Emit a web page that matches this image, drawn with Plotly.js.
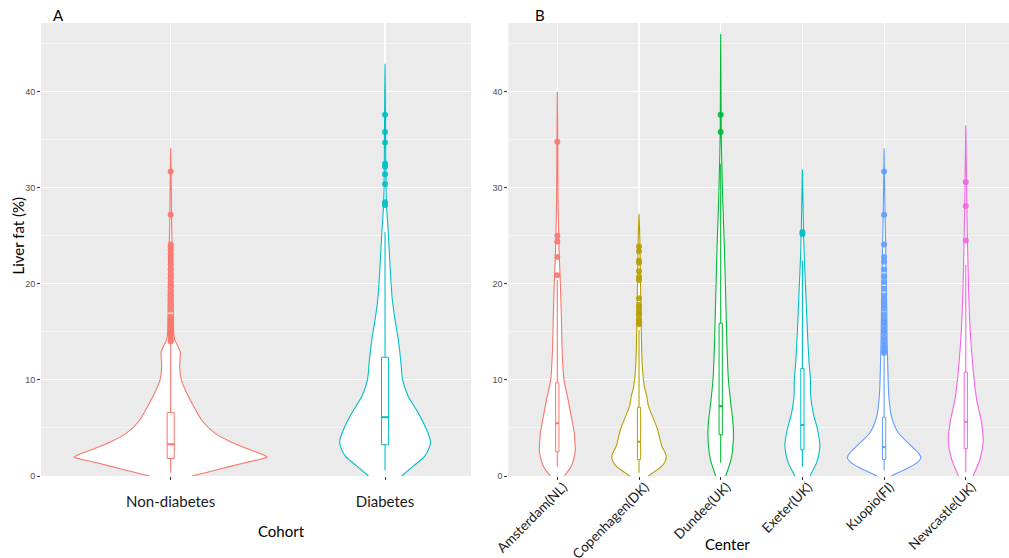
<!DOCTYPE html>
<html>
<head>
<meta charset="utf-8">
<script src="https://cdn.plot.ly/plotly-3.0.1.min.js"></script>
<style>
  html, body { margin: 0; padding: 0; background: #ffffff; }
  #chart { width: 1009px; height: 558px; }
</style>
</head>
<body>
<div id="chart"></div>
<script>
// ---------------- DATA ----------------
const cohorts = ["Non-diabetes", "Diabetes"];
const centers = ["Amsterdam(NL)", "Copenhagen(DK)", "Dundee(UK)", "Exeter(UK)", "Kuopio(FI)", "Newcastle(UK)"];

// Violin density profiles (liver fat value, relative density; widest violin of a panel = 1)
const nonDiabY = [0, 0.5, 1.0, 1.5, 1.75, 1.96, 2.2, 2.68, 3.52, 4.49, 5.7, 7.1, 8.66, 10.0, 11.4, 12.3, 12.8, 13.5, 14.2, 15, 18, 22, 24, 26, 30, 34.1];
const nonDiabD = [0.22, 0.42, 0.62, 0.82, 0.93, 1.0, 0.96, 0.835, 0.63, 0.455, 0.33, 0.247, 0.165, 0.11, 0.093, 0.098, 0.1, 0.075, 0.041, 0.031, 0.026, 0.021, 0.015, 0.01, 0.006, 0];
const diabY = [0, 1.02, 2.06, 3.0, 3.62, 4.84, 6.58, 8.3, 10.04, 12.1, 14.2, 16.3, 18.4, 21.8, 25.3, 27.7, 30, 35, 40, 42.9];
const diabD = [0.172, 0.292, 0.412, 0.46, 0.471, 0.43, 0.343, 0.24, 0.182, 0.162, 0.137, 0.103, 0.075, 0.052, 0.034, 0.018, 0.01, 0.006, 0.003, 0];

const amsY = [0, 1.02, 2.0, 2.76, 3.5, 4.5, 6.2, 8.0, 10.0, 13.2, 16.6, 20.1, 23.6, 28.8, 34, 40];
const amsD = [0.19, 0.38, 0.46, 0.49, 0.48, 0.46, 0.38, 0.29, 0.18, 0.13, 0.11, 0.082, 0.047, 0.019, 0.012, 0];
const cphY = [0, 1.02, 1.6, 2.06, 2.5, 3.1, 4.9, 7.3, 8.3, 9.3, 11.4, 14.9, 18.4, 22, 25, 27.3];
const cphD = [0.25, 0.62, 0.72, 0.74, 0.70, 0.62, 0.5, 0.255, 0.21, 0.145, 0.09, 0.063, 0.047, 0.033, 0.02, 0];
const dunY = [0, 1.72, 3.0, 4.5, 6.0, 7.3, 10, 13.2, 18.4, 23.6, 28.8, 33, 35.7, 40, 46];
const dunD = [0.137, 0.282, 0.33, 0.348, 0.323, 0.282, 0.21, 0.173, 0.137, 0.101, 0.055, 0.027, 0.014, 0.008, 0];
const exeY = [0, 1.37, 2.3, 3.28, 4.84, 6.58, 8.3, 10.04, 12, 15, 18, 20, 22.4, 25, 28, 31.9];
const exeD = [0.205, 0.384, 0.45, 0.474, 0.41, 0.293, 0.227, 0.219, 0.178, 0.137, 0.104, 0.082, 0.055, 0.033, 0.019, 0];
const kuoY = [0, 0.85, 1.4, 1.9, 2.4, 3.1, 4.5, 6.2, 8.3, 10, 12, 14, 18, 24, 28, 34.1];
const kuoD = [0.19, 0.66, 0.9, 1.0, 0.93, 0.75, 0.384, 0.2, 0.129, 0.11, 0.096, 0.082, 0.068, 0.041, 0.022, 0];
const newY = [0, 1.72, 3.62, 5.5, 8, 10, 12, 15, 18, 22, 26, 30, 36.5];
const newD = [0.197, 0.384, 0.474, 0.43, 0.293, 0.227, 0.178, 0.123, 0.088, 0.06, 0.038, 0.022, 0];

// Box statistics: [lower whisker, Q1, median, Q3, upper whisker]
const nonDiabBox = [0.33, 1.82, 3.3, 6.6, 13.8];
const diabBox    = [0.6, 3.25, 6.12, 12.36, 25.4];
const amsBox = [1.0, 2.52, 5.5, 9.7, 20.4];
const cphBox = [0.33, 1.72, 3.56, 7.16, 15.2];
const dunBox = [1.37, 4.3, 7.26, 15.9, 32.5];
const exeBox = [0.96, 2.72, 5.3, 11.2, 22.4];
const kuoBox = [0.6, 1.72, 3.0, 6.12, 12.6];
const newBox = [0.4, 2.83, 5.64, 10.8, 22.0];

// Outliers
const nonDiabOut = [14.0, 14.2, 14.5, 14.8, 15.0, 15.3, 15.5, 15.7, 16.0, 16.2, 16.4, 16.6, 17.3, 17.8, 18.3, 18.8, 19.2, 19.7, 20.1, 20.6, 21.0, 21.5, 22.0, 22.4, 22.8, 23.1, 23.5, 23.8, 24.1, 27.2, 31.7];
const diabOut = [28.2, 28.5, 30.4, 31.4, 32.2, 32.5, 34.7, 35.8, 37.6];
const amsOut = [20.9, 22.8, 24.4, 25.0, 34.8];
const cphOut = [15.8, 16.0, 16.3, 16.8, 17.1, 17.5, 17.8, 18.5, 20.4, 20.7, 21.3, 22.2, 22.4, 23.4, 23.9];
const dunOut = [35.8, 37.6];
const exeOut = [25.2, 25.4];
const kuoOut = [12.8, 13.0, 13.3, 13.6, 14.0, 14.4, 14.9, 15.2, 15.6, 16.0, 16.3, 16.8, 17.4, 17.8, 18.3, 18.8, 19.5, 20.2, 20.8, 21.5, 22.3, 22.8, 24.1, 27.2, 31.7];
const newOut = [24.5, 28.1, 30.6];

// ---------------- STYLE ----------------
const cohortColors = ["#F8766D", "#00BFC4"];
const centerColors = ["#F8766D", "#B79F00", "#00BA38", "#00BFC4", "#619CFF", "#F564E3"];
const HALF = 0.45;      // max half-width of a violin (category units)

const groups = [
  {ax: "x",  ay: "y",  pos: 1, bw: 0.033, col: cohortColors[0], vy: nonDiabY, vd: nonDiabD, box: nonDiabBox, out: nonDiabOut},
  {ax: "x",  ay: "y",  pos: 2, bw: 0.033, col: cohortColors[1], vy: diabY, vd: diabD, box: diabBox, out: diabOut},
  {ax: "x2", ay: "y2", pos: 1, bw: 0.04, col: centerColors[0], vy: amsY, vd: amsD, box: amsBox, out: amsOut},
  {ax: "x2", ay: "y2", pos: 2, bw: 0.04, col: centerColors[1], vy: cphY, vd: cphD, box: cphBox, out: cphOut},
  {ax: "x2", ay: "y2", pos: 3, bw: 0.04, col: centerColors[2], vy: dunY, vd: dunD, box: dunBox, out: dunOut},
  {ax: "x2", ay: "y2", pos: 4, bw: 0.04, col: centerColors[3], vy: exeY, vd: exeD, box: exeBox, out: exeOut},
  {ax: "x2", ay: "y2", pos: 5, bw: 0.04, col: centerColors[4], vy: kuoY, vd: kuoD, box: kuoBox, out: kuoOut},
  {ax: "x2", ay: "y2", pos: 6, bw: 0.04, col: centerColors[5], vy: newY, vd: newD, box: newBox, out: newOut}
];

const traces = [];
const base = {type: "scatter", hoverinfo: "skip", showlegend: false};
groups.forEach(g => {
  const leftX = g.vy.map((y, i) => g.pos - g.vd[i] * HALF);
  const rightX = g.vy.map((y, i) => g.pos + g.vd[i] * HALF).reverse();
  const xs = leftX.concat(rightX);
  const ys = g.vy.concat(g.vy.slice().reverse());
  // violin white fill
  traces.push(Object.assign({}, base, {mode: "lines", xaxis: g.ax, yaxis: g.ay, x: xs, y: ys,
    fill: "toself", fillcolor: "#FFFFFF", line: {width: 0, shape: "spline", smoothing: 0.7}}));
  // violin outline (open at the bottom, clipped by the panel)
  traces.push(Object.assign({}, base, {mode: "lines", xaxis: g.ax, yaxis: g.ay, x: xs, y: ys,
    line: {color: g.col, width: 1.1, shape: "spline", smoothing: 0.7}}));
  const [lo, q1, med, q3, hi] = g.box;
  const l = g.pos - g.bw / 2, r = g.pos + g.bw / 2;
  // whiskers
  traces.push(Object.assign({}, base, {mode: "lines", xaxis: g.ax, yaxis: g.ay,
    x: [g.pos, g.pos, null, g.pos, g.pos], y: [lo, q1, null, q3, hi],
    line: {color: g.col, width: 1.1}}));
  // box body
  traces.push(Object.assign({}, base, {mode: "lines", xaxis: g.ax, yaxis: g.ay,
    x: [l, r, r, l, l], y: [q1, q1, q3, q3, q1],
    fill: "toself", fillcolor: "#FFFFFF", line: {color: g.col, width: 1}}));
  // median
  traces.push(Object.assign({}, base, {mode: "lines", xaxis: g.ax, yaxis: g.ay,
    x: [l, r], y: [med, med], line: {color: g.col, width: 2}}));
  // outliers
  traces.push(Object.assign({}, base, {mode: "markers", xaxis: g.ax, yaxis: g.ay,
    x: g.out.map(() => g.pos), y: g.out,
    marker: {color: g.col, size: 6, opacity: 0.9, line: {width: 0}}}));
});

// ---------------- LAYOUT ----------------
const W = 1009, H = 558;
const M = {l: 41, r: 0, t: 23, b: 82};
const plotW = W - M.l - M.r, plotH = H - M.t - M.b;
const px = v => (v - M.l) / plotW;
const py = v => (H - M.b - v) / plotH;

const yCommon = {
  range: [0, 47.15], dtick: 10, tick0: 0,
  showgrid: true, gridcolor: "#FFFFFF", gridwidth: 1.1,
  minor: {dtick: 5, tick0: 0, showgrid: true, gridcolor: "#FFFFFF", gridwidth: 0.5},
  zeroline: false, showline: false,
  ticks: "outside", ticklen: 3, tickcolor: "#333333", tickwidth: 1,
  tickfont: {family: "Liberation Sans, Arial, sans-serif", size: 9, color: "#4D4D4D"},
  fixedrange: true
};

const layout = {
  width: W, height: H,
  margin: M,
  paper_bgcolor: "#FFFFFF",
  plot_bgcolor: "#EBEBEB",
  showlegend: false,
  xaxis: {
    domain: [0, px(471)], anchor: "y",
    range: [0.395, 2.401], tickvals: [1, 2], ticktext: cohorts,
    showgrid: true, gridcolor: "#FFFFFF", gridwidth: 1.1, zeroline: false, showline: false,
    ticks: "outside", ticklen: 3, tickcolor: "#333333",
    tickfont: {family: "Lato, sans-serif", size: 15, color: "#1A1A1A"},
    ticklabelstandoff: 9, fixedrange: true
  },
  yaxis: Object.assign({anchor: "x"}, yCommon),
  xaxis2: {
    domain: [px(508.3), 1], anchor: "y2",
    range: [0.4, 6.529], tickvals: [1, 2, 3, 4, 5, 6], ticktext: centers,
    showgrid: true, gridcolor: "#FFFFFF", gridwidth: 1.1, zeroline: false, showline: false,
    ticks: "outside", ticklen: 3, tickcolor: "#333333", tickangle: -45,
    tickfont: {family: "Lato, sans-serif", size: 13.5, color: "#1A1A1A"},
    ticklabelstandoff: -6, ticklabelshift: 6, fixedrange: true
  },
  yaxis2: Object.assign({anchor: "x2"}, yCommon),
  annotations: [
    {text: "A", x: px(58), y: py(15), xref: "paper", yref: "paper", showarrow: false,
     xanchor: "center", yanchor: "middle", font: {family: "Lato, sans-serif", size: 15, color: "#000"}},
    {text: "B", x: px(540), y: py(15), xref: "paper", yref: "paper", showarrow: false,
     xanchor: "center", yanchor: "middle", font: {family: "Lato, sans-serif", size: 15, color: "#000"}},
    {text: "Liver fat (%)", x: px(17.5), y: py(236), xref: "paper", yref: "paper", showarrow: false,
     textangle: -90, xanchor: "center", yanchor: "middle", font: {family: "Lato, sans-serif", size: 15, color: "#000"}},
    {text: "Cohort", x: px(281), y: py(531), xref: "paper", yref: "paper", showarrow: false,
     xanchor: "center", yanchor: "middle", font: {family: "Lato, sans-serif", size: 15, color: "#000"}},
    {text: "Center", x: px(727), y: py(544), xref: "paper", yref: "paper", showarrow: false,
     xanchor: "center", yanchor: "middle", font: {family: "Lato, sans-serif", size: 15, color: "#000"}}
  ]
};

Plotly.newPlot("chart", traces, layout, {displayModeBar: false, staticPlot: true});
</script>
</body>
</html>
